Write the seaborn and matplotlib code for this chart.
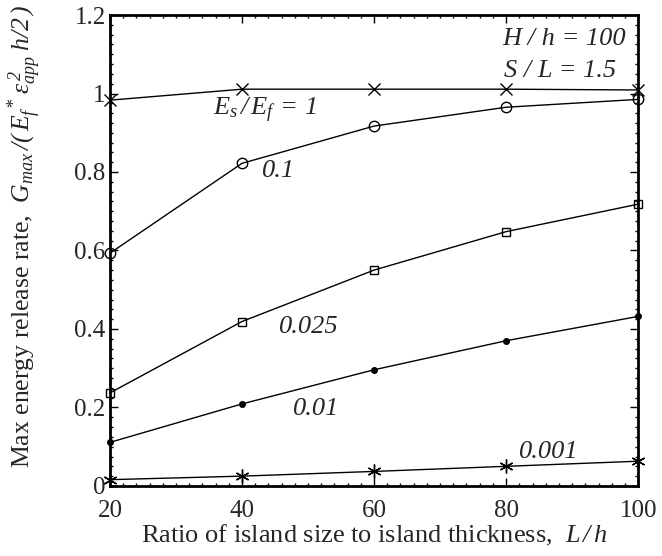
import matplotlib
matplotlib.use("Agg")
import matplotlib.pyplot as plt
import seaborn as sns
import pandas as pd
from matplotlib.ticker import MultipleLocator

sns.set_style("ticks")
plt.rcParams['font.family'] = ['Liberation Serif', 'DejaVu Serif']
plt.rcParams['mathtext.fontset'] = 'custom'
plt.rcParams['mathtext.rm'] = 'Liberation Serif:italic'
plt.rcParams['mathtext.it'] = 'Liberation Serif:italic'
plt.rcParams['mathtext.fallback'] = 'stix'

x_vals = [20, 40, 60, 80, 100]
ratio_1 = [0.983, 1.011, 1.011, 1.011, 1.009]
ratio_01 = [0.593, 0.822, 0.917, 0.965, 0.985]
ratio_0025 = [0.237, 0.419, 0.550, 0.648, 0.718]
ratio_001 = [0.111, 0.209, 0.296, 0.370, 0.432]
ratio_0001 = [0.016, 0.025, 0.037, 0.050, 0.063]

series_names = ["1", "0.1", "0.025", "0.01", "0.001"]
series_vals = [ratio_1, ratio_01, ratio_0025, ratio_001, ratio_0001]
markers = ["x", "o", "s", "o", (6, 2, 0)]
msizes = [9, 7.5, 6, 4, 10]
mfaces = ["none", "none", "none", "black", "none"]

fig = plt.figure(figsize=(6.62, 5.56), dpi=100)
ax = fig.add_axes([0.166, 0.126, 0.798, 0.847])

for name, vals, mk, ms, mf in zip(series_names, series_vals, markers, msizes, mfaces):
    df = pd.DataFrame({"x": x_vals, "y": vals})
    sns.lineplot(data=df, x="x", y="y", ax=ax, color="black", linewidth=1,
                 marker=mk, markersize=ms, markerfacecolor=mf,
                 markeredgecolor="black", markeredgewidth=1, clip_on=False)

ax.set_xlim(20, 100)
ax.set_ylim(0, 1.2)
ax.set_xticks([20, 40, 60, 80, 100])
ax.set_yticks([0, 0.2, 0.4, 0.6, 0.8, 1.0, 1.2])
ax.set_yticklabels(["0", "0.2", "0.4", "0.6", "0.8", "1", "1.2"])
ax.xaxis.set_minor_locator(MultipleLocator(2))
ax.yaxis.set_minor_locator(MultipleLocator(0.025))
ax.tick_params(which="major", direction="in", length=6, width=1, top=True, right=True,
               labelsize=18, color="black")
ax.tick_params(axis="x", which="major", pad=10)
ax.tick_params(axis="y", which="major", pad=3)
ax.tick_params(which="minor", direction="in", length=2, width=1, top=True, right=True, color="black")
for s in ax.spines.values():
    s.set_linewidth(2)
    s.set_color("black")

ax.set_xlabel(r"Ratio of island size to island thickness,  $L\,/\,h$", fontsize=19, labelpad=1)
ax.set_ylabel(r"Max energy release rate,  $G_{max}\,/(\,E_f^{\,*}\,\varepsilon_{app}^{\,2}\;h/2\,)$",
              fontsize=18.5)
ax.yaxis.set_label_coords(-0.125, 0.529)

tfs = 19
ax.text(35.6, 0.945, r"$E_s\,/\,E_f\, =\, 1$", fontsize=tfs, va="baseline", ha="left")
ax.text(43.0, 0.787, "0.1", fontsize=tfs, style="italic", va="baseline", ha="left")
ax.text(45.6, 0.390, "0.025", fontsize=tfs, style="italic", va="baseline", ha="left")
ax.text(47.7, 0.181, "0.01", fontsize=tfs, style="italic", va="baseline", ha="left")
ax.text(82.0, 0.0713, "0.001", fontsize=tfs, style="italic", va="baseline", ha="left")
ax.text(98.2, 1.1236, "H / h = 100", fontsize=tfs, style="italic", va="baseline", ha="right")
ax.text(96.7, 1.042, "S / L = 1.5", fontsize=tfs, style="italic", va="baseline", ha="right")

fig.savefig("out.png", dpi=100)
